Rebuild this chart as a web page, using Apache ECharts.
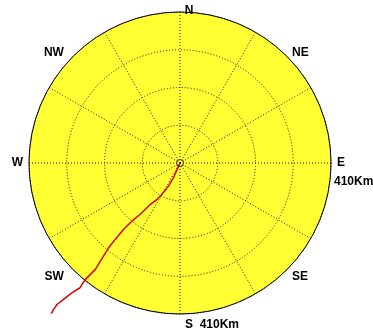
<!DOCTYPE html>
<html>
<head>
<meta charset="utf-8">
<script src="https://cdn.jsdelivr.net/npm/echarts@6/dist/echarts.min.js"></script>
<style>
html, body { margin: 0; padding: 0; background: #fff; }
#main { width: 373px; height: 334px; }
</style>
</head>
<body>
<div id="main"></div>
<script>
// compass labels, one per 45 degrees
var dirLabels = ['N', 'NE', 'E', 'SE', 'S', 'SW', 'W', 'NW'];
var rangeLabel = '410Km';
var rangeMax = 410;

// track: distance (km) and bearing (deg)
var trackDist = [0, 7, 44, 71, 99, 118, 139, 171, 205, 237, 272, 301, 336, 370, 408, 424, 434, 459, 487, 509, 525, 538];
var trackBearing = [206, 205, 204, 206.6, 210, 212.4, 215.7, 217.5, 219.6, 220.4, 220.3, 220.1, 219.2, 218.5, 219.1, 218.9, 218.7, 219.8, 220.5, 221, 220.8, 220.5];
// the track runs past the plot edge, so it gets its own bigger polar
var trackMax = 600;

// start marker
var startDist = [0];
var startBearing = [0];

var center = [180, 163];
var radius = 151;

var labelFont = {
    fontFamily: 'Liberation Sans',
    fontWeight: 'bold',
    fontSize: 12,
    color: '#000'
};

// per-label nudges so they sit where the original put them
var labelPad = {
    'N': [0, 0, 0, 18],
    'NE': [0, 0, 0, 11],
    'E': [19, 0, 0, 11],
    'SE': [3, 0, 0, 11],
    'S': [9, 0, 0, 64],
    'SW': [3, 15, 0, 0],
    'W': [0, 14, 0, 0],
    'NW': [0, 15, 0, 0]
};

var dirData = [];
for (var i = 0; i < dirLabels.length; i++)
{
    var d = dirLabels[i];
    dirData.push({value: d, textStyle: {padding: labelPad[d]}});
}

function labelText(v)
{
    if (v == 'E')
        return '{e|E}\n' + rangeLabel;
    if (v == 'S')
        return 'S  ' + rangeLabel;
    return v;
}

var track = [];
for (var i = 0; i < trackDist.length; i++)
    track.push([trackDist[i], trackBearing[i]]);

var start = [];
for (var i = 0; i < startDist.length; i++)
    start.push([startDist[i], startBearing[i]]);

var dotLine = {color: '#1a1a1a', type: [1, 2], width: 1};

var myChart = echarts.init(document.getElementById('main'), null, {renderer: 'canvas'});

option = {
    animation: false,
    backgroundColor: '#fff',
    polar: [
        {center: center, radius: radius},
        {center: center, radius: radius},
        {center: center, radius: radius * trackMax / rangeMax}
    ],
    angleAxis: [
        {
            polarIndex: 0,
            type: 'value',
            min: 0,
            max: 360,
            interval: 30,
            startAngle: 90,
            clockwise: true,
            axisLabel: {show: false},
            axisTick: {show: false},
            axisLine: {show: true, lineStyle: {color: '#000', width: 1}},
            splitLine: {show: true, lineStyle: dotLine},
            splitArea: {show: false},
            z: 2
        },
        {
            polarIndex: 1,
            type: 'category',
            data: dirData,
            boundaryGap: false,
            startAngle: 90,
            clockwise: true,
            axisLine: {show: false},
            axisTick: {show: false},
            splitLine: {show: false},
            splitArea: {show: false},
            axisLabel: {
                show: true,
                margin: -8,
                fontFamily: labelFont.fontFamily,
                fontWeight: labelFont.fontWeight,
                fontSize: labelFont.fontSize,
                color: labelFont.color,
                lineHeight: 19,
                formatter: labelText,
                rich: {
                    e: {
                        fontFamily: labelFont.fontFamily,
                        fontWeight: 'bold',
                        fontSize: 12,
                        color: '#000',
                        padding: [0, 0, 0, 3]
                    }
                }
            },
            z: 3
        },
        {
            polarIndex: 2,
            type: 'value',
            min: 0,
            max: 360,
            startAngle: 90,
            clockwise: true,
            show: false
        }
    ],
    radiusAxis: [
        {
            polarIndex: 0,
            type: 'value',
            min: 0,
            max: rangeMax,
            interval: rangeMax / 4,
            axisLine: {show: false},
            axisTick: {show: false},
            axisLabel: {show: false},
            splitLine: {show: true, lineStyle: dotLine},
            z: 2
        },
        {
            polarIndex: 1,
            type: 'value',
            min: 0,
            max: rangeMax,
            interval: rangeMax,
            axisLine: {show: false},
            axisTick: {show: false},
            axisLabel: {show: false},
            splitLine: {show: false},
            splitArea: {show: true, areaStyle: {color: ['#ffff33']}},
            z: 0
        },
        {
            polarIndex: 2,
            type: 'value',
            min: 0,
            max: trackMax,
            show: false
        }
    ],
    series: [
        {
            name: 'track',
            type: 'line',
            coordinateSystem: 'polar',
            polarIndex: 2,
            data: track,
            clip: false,
            showSymbol: false,
            symbol: 'none',
            lineStyle: {color: '#e00000', width: 1.5},
            z: 5
        },
        {
            name: 'start',
            type: 'scatter',
            coordinateSystem: 'polar',
            polarIndex: 0,
            data: start,
            symbol: 'circle',
            symbolSize: 7,
            itemStyle: {color: 'rgba(0,0,0,0)', borderColor: '#222', borderWidth: 1},
            z: 6
        }
    ]
};
myChart.setOption(option);
</script>
</body>
</html>
